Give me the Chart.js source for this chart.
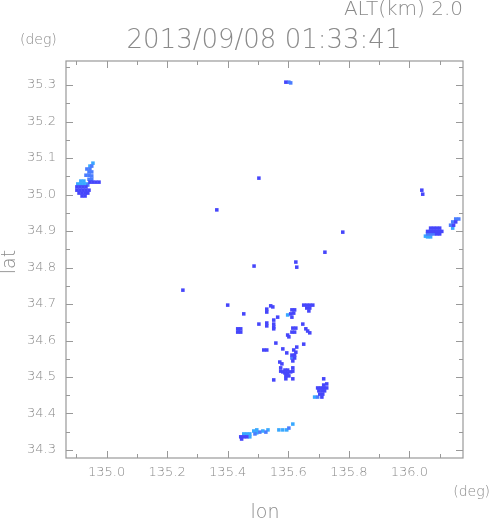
<!DOCTYPE html>
<html><head><meta charset="utf-8">
<script src="https://cdn.jsdelivr.net/npm/chart.js@4/dist/chart.umd.min.js"></script>
<style>html,body{margin:0;padding:0;background:#fff;}canvas{display:block}</style>
</head><body>
<canvas id="c" width="491" height="521"></canvas>
<script>
const titleText = "2013/09/08 01:33:41";
const altText = "ALT(km) 2.0";
const xTicks = [135.0, 135.2, 135.4, 135.6, 135.8, 136.0];
const xMinorTicks = [134.9, 135.1, 135.3, 135.5, 135.7, 135.9, 136.1];
const yTicks = [34.3, 34.4, 34.5, 34.6, 34.7, 34.8, 34.9, 35.0, 35.1, 35.2, 35.3];
const yMinorTicks = [34.35, 34.45, 34.55, 34.65, 34.75, 34.85, 34.95, 35.05, 35.15, 35.25, 35.35];
const lonRange = [134.866, 136.177];
const latRange = [34.278, 35.366];

// radar echo cells [lon, lat], grouped by reflectivity colour
const weakCells = [
 [134.902,35.021],[134.912,35.021],[134.922,35.021],[134.932,35.021],
 [134.902,35.012],[134.912,35.012],[134.922,35.012],[134.932,35.012],[134.942,35.012],
 [134.909,35.004],[134.919,35.004],[134.929,35.004],[134.938,35.004],
 [134.919,34.996],[134.929,34.996],
 [134.945,35.034],[134.955,35.034],[134.965,35.034],[134.975,35.034],
 [135.592,35.308],
 [135.503,35.045],[135.364,34.958],[135.780,34.897],[135.721,34.842],[135.625,34.815],[135.628,34.801],
 [135.487,34.804],[135.252,34.738],[135.400,34.697],[136.041,35.012],[136.044,35.001],
 [136.070,34.908],[136.080,34.908],[136.090,34.908],[136.100,34.908],
 [136.060,34.899],[136.070,34.899],[136.080,34.899],[136.090,34.899],[136.100,34.899],[136.107,34.899],
 [136.090,34.892],[136.100,34.892],[136.153,34.925],[136.146,34.916],
 [135.542,34.695],[135.549,34.692],[135.529,34.686],[135.529,34.678],[135.612,34.684],[135.621,34.684],
 [135.651,34.697],[135.661,34.697],[135.671,34.697],[135.681,34.697],[135.661,34.689],[135.671,34.689],[135.668,34.681],
 [135.608,34.673],[135.618,34.675],[135.612,34.664],
 [135.453,34.673],[135.529,34.648],[135.529,34.640],[135.552,34.645],[135.552,34.637],[135.552,34.632],
 [135.433,34.632],[135.443,34.632],[135.433,34.623],[135.443,34.623],
 [135.503,34.645],[135.565,34.664],[135.552,34.656],
 [135.615,34.634],[135.625,34.634],[135.648,34.645],
 [135.658,34.632],[135.664,34.626],[135.671,34.621],
 [135.612,34.623],[135.621,34.623],[135.598,34.615],[135.602,34.610],
 [135.559,34.593],[135.519,34.574],[135.529,34.574],[135.582,34.577],
 [135.618,34.574],[135.628,34.582],[135.625,34.568],[135.595,34.566],
 [135.612,34.560],[135.621,34.560],[135.621,34.552],[135.615,34.544],
 [135.651,34.590],[135.572,34.541],[135.579,34.536],
 [135.575,34.525],[135.575,34.516],[135.582,34.514],
 [135.589,34.519],[135.598,34.519],[135.589,34.511],[135.598,34.511],[135.608,34.514],[135.592,34.503],[135.602,34.503],[135.592,34.495],
 [135.615,34.525],[135.615,34.516],[135.552,34.492],[135.615,34.495],[135.717,34.495],
 [135.717,34.478],[135.727,34.481],[135.697,34.470],[135.707,34.470],[135.717,34.470],[135.727,34.470],
 [135.701,34.462],[135.711,34.462],[135.720,34.462],[135.704,34.453],[135.714,34.453],[135.711,34.445],
 [135.443,34.336],[135.453,34.336],[135.463,34.336],[135.446,34.330]
];
const midCells = [
 [134.938,35.026],[134.942,35.042],[134.951,35.042],[134.951,35.078],[134.935,35.070],[134.945,35.070],
 [134.942,35.062],[134.951,35.062],[134.932,35.053],[134.942,35.053],[134.951,35.051],
 [135.602,35.308],[135.608,35.306],
 [136.060,34.892],[136.070,34.892],[136.080,34.892],[136.153,34.933],[136.163,34.933],[136.143,34.925],[136.136,34.916],
 [135.612,34.552],[135.595,34.505],[135.697,34.445],
 [135.490,34.344],[135.506,34.349],[135.526,34.349],[135.602,34.360]
];
const strongCells = [
 [134.915,35.037],[134.925,35.037],[134.905,35.029],[134.915,35.029],[134.925,35.029],[134.935,35.029],
 [134.955,35.086],[134.945,35.078],
 [136.060,34.884],[136.070,34.884],[136.053,34.886],[136.143,34.908],
 [135.598,34.670],[135.436,34.629],[135.687,34.445],
 [135.453,34.344],[135.463,34.344],[135.473,34.344],[135.473,34.336],[135.486,34.352],[135.496,34.355],
 [135.496,34.347],[135.516,34.352],[135.533,34.355],[135.569,34.355],[135.582,34.355],[135.595,34.355],[135.615,34.371]
];

const FONT = "'DejaVu Sans ExtraLight', 'DejaVu Sans', sans-serif";
const TXT = '#8a8a8a';

function ds(cells, color) {
  return {
    data: cells.map(c => ({x: c[0], y: c[1]})),
    backgroundColor: color, borderWidth: 0,
    pointStyle: 'rect', pointRadius: 2.5, pointHoverRadius: 2.5, showLine: false
  };
}

const framePlugin = {
  id: 'frame',
  afterDraw(chart) {
    const ctx = chart.ctx, a = chart.chartArea;
    const xs = chart.scales.x, ys = chart.scales.y;
    ctx.save();
    ctx.strokeStyle = '#999';
    ctx.lineWidth = 1.2;
    ctx.strokeRect(a.left, a.top, a.right - a.left, a.bottom - a.top);
    ctx.lineWidth = 1;
    ctx.beginPath();
    const tick = (vals, len) => {
      vals.forEach(v => {
        const px = Math.round(xs.getPixelForValue(v)) + 0.5;
        if (px < a.left || px > a.right) return;
        ctx.moveTo(px, a.bottom); ctx.lineTo(px, a.bottom - len);
        ctx.moveTo(px, a.top); ctx.lineTo(px, a.top + len);
      });
    };
    const ytick = (vals, len) => {
      vals.forEach(v => {
        const py = Math.round(ys.getPixelForValue(v)) + 0.5;
        if (py < a.top || py > a.bottom) return;
        ctx.moveTo(a.left, py); ctx.lineTo(a.left + len, py);
        ctx.moveTo(a.right, py); ctx.lineTo(a.right - len, py);
      });
    };
    tick(xTicks, 7); tick(xMinorTicks, 4);
    ytick(yTicks, 7); ytick(yMinorTicks, 4);
    ctx.stroke();

    ctx.fillStyle = TXT;
    ctx.textBaseline = 'middle';
    ctx.font = '200 20px ' + FONT;
    ctx.textAlign = 'right';
    ctx.fillText(altText, 463, 10);
    ctx.font = '200 26px ' + FONT;
    ctx.textAlign = 'center';
    ctx.fillText(titleText, 264, 41);
    ctx.font = '200 14px ' + FONT;
    ctx.textAlign = 'left';
    ctx.fillText('(deg)', 20, 40);
    ctx.textAlign = 'right';
    ctx.fillText('(deg)', 490, 492);
    ctx.font = '200 19px ' + FONT;
    ctx.textAlign = 'center';
    ctx.fillText('lon', 265, 513);
    ctx.save();
    ctx.translate(10, 262);
    ctx.rotate(-Math.PI / 2);
    ctx.fillText('lat', 0, 0);
    ctx.restore();
    ctx.restore();
  }
};

new Chart(document.getElementById('c'), {
  type: 'scatter',
  data: { datasets: [ds(weakCells, '#4646fb'), ds(midCells, '#4a7dff'), ds(strongCells, '#38a8ff')] },
  options: {
    responsive: false, animation: false, devicePixelRatio: 1, events: [],
    layout: { padding: { left: 0, top: 61, right: 28, bottom: 33 } },
    plugins: { legend: { display: false }, title: { display: false }, tooltip: { enabled: false } },
    scales: {
      x: {
        type: 'linear', min: lonRange[0], max: lonRange[1],
        afterFit(s) { s.height = 30; },
        afterBuildTicks(s) { s.ticks = xTicks.map(v => ({ value: v })); },
        grid: { display: false, drawTicks: false }, border: { display: false },
        ticks: { padding: 7, color: TXT, font: { family: FONT, size: 13, weight: 200 }, maxRotation: 0, autoSkip: false,
          callback: v => Number(v).toFixed(1) }
      },
      y: {
        type: 'linear', min: latRange[0], max: latRange[1],
        afterFit(s) { s.width = 66; },
        afterBuildTicks(s) { s.ticks = yTicks.map(v => ({ value: v })); },
        grid: { display: false, drawTicks: false }, border: { display: false },
        ticks: { padding: 10, color: TXT, font: { family: FONT, size: 13, weight: 200 }, autoSkip: false,
          callback: v => Number(v).toFixed(1) }
      }
    }
  },
  plugins: [framePlugin]
});
</script>
</body></html>
